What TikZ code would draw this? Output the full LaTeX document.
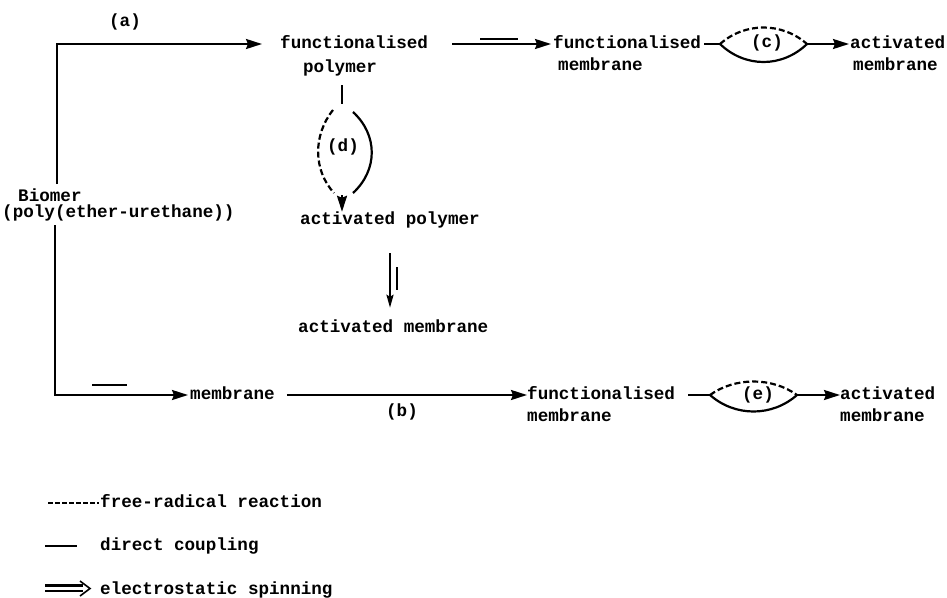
\documentclass[tikz,border=0pt]{standalone}
\usepackage{fontspec}
\setmainfont{Liberation Mono}
\usetikzlibrary{arrows.meta,calc}
\begin{document}
\begin{tikzpicture}[x=1pt,y=-1pt,
  txt/.style={inner sep=0pt, font=\fontsize{17.6}{18}\selectfont\bfseries, text height=12pt, text depth=4pt},
  ln/.style={line width=2.2pt},
  arr/.style={ln,-{Stealth[length=16pt,width=10pt,inset=2pt]}},
  arrn/.style={ln,-{Stealth[length=13pt,width=7pt,inset=2pt]}},
  dsh/.style={ln,dash pattern=on 6pt off 3pt},
]
\useasboundingbox (0,0) rectangle (947,597);

% nodes
\node[txt,anchor=west] (fp1) at (280,44) {functionalised};
\node[txt] (fp2) at (340,68) {polymer};
\node[txt,anchor=west] (fm1) at (553,44) {functionalised};
\node[txt,anchor=west] (fm2) at (558,66) {membrane};
\node[txt,anchor=west] (am1) at (850,44) {activated};
\node[txt,anchor=west] (am2) at (853,66) {membrane};
\node[txt] (la) at (125,22) {(a)};
\node[txt] (lc) at (767,43) {(c)};
\node[txt] (ld) at (343,147) {(d)};
\node[txt,anchor=west,text height=11pt,text depth=1pt] (bio1) at (18,196) {Biomer};
\node[txt,anchor=west,text height=11pt,text depth=4pt] (bio2) at (2,214) {(poly(ether-urethane))};
\node[txt,anchor=west] (ap) at (300,220) {activated polymer};
\node[txt,anchor=west] (amem) at (298,328) {activated membrane};
\node[txt,anchor=west] (mem) at (190,395) {membrane};
\node[txt] (lb) at (402,412) {(b)};
\node[txt,anchor=west] (fb1) at (527,395) {functionalised};
\node[txt,anchor=west] (fb2) at (527,417) {membrane};
\node[txt] (le) at (758,395) {(e)};
\node[txt,anchor=west] (ab1) at (840,395) {activated};
\node[txt,anchor=west] (ab2) at (840,417) {membrane};
\node[txt,anchor=west] (k1) at (100,503) {free-radical reaction};
\node[txt,anchor=west] (k2) at (100,546) {direct coupling};
\node[txt,anchor=west] (k3) at (100,590) {electrostatic spinning};

% (a)
\coordinate (ta) at (57,184);
\draw[arr] (ta) |- ([xshift=-18pt]fp1.west);
% top electrospinning
\draw[arr] ([xshift=24pt]fp1.east) -- ([xshift=-2pt]fm1.west);
\draw[ln] (480,39) -- (518,39);
% (c)
\coordinate (c1) at (720,44);
\coordinate (c2) at (807,44);
\draw[ln] ([xshift=3pt]fm1.east) -- (c1);
\draw[dsh] (c1) .. controls +(25,-22) and +(-25,-22) .. (c2);
\draw[ln] (c1) .. controls +(25,24) and +(-25,24) .. (c2);
\draw[arr] (c2) -- ([xshift=-1pt]am1.west);
% (d)
\coordinate (d0) at (342,85);
\draw[ln] (d0) -- ++(0,19);
\draw[dsh] (333,110) .. controls (313,135) and (313,170) .. (334,193);
\draw[ln] (353,112) .. controls (378,135) and (378,170) .. (353,193);
\coordinate (d2) at (342,195);
\draw[arr] (d2) -- (d2 |- ap.north);
% electrospinning down
\coordinate (v1) at (390,253);
\draw[arrn] (v1) -- ([yshift=12pt]v1 |- amem.north);
\draw[ln] (397,267) -- (397,290);
% bottom
\coordinate (bb) at (55,225);
\draw[arr] (bb) |- ([xshift=-2pt]mem.west);
\draw[ln] (92,385) -- (127,385);
\draw[arr] ([xshift=12pt]mem.east) -- (fb1.west);
% (e)
\coordinate (e1) at (710,395);
\coordinate (e2) at (797,395);
\draw[ln] ([xshift=13pt]fb1.east) -- (e1);
\draw[dsh] (e1) .. controls +(25,-18) and +(-25,-18) .. (e2);
\draw[ln] (e1) .. controls +(25,22) and +(-25,22) .. (e2);
\draw[arr] (e2) -- (ab1.west);
% legend
\coordinate (g1) at (48,503);
\draw[ln,dash pattern=on 5pt off 2pt] (g1) -- ([xshift=-1pt]k1.west);
\coordinate (g2) at (45,546);
\draw[ln] (g2) -- ++(32,0);
\coordinate (g3) at (45,585.5);
\coordinate (g4) at (45,591);
\draw[ln] (g3) -- ++(38,0);
\draw[ln] (g4) -- ++(38,0);
\draw[line width=1.6pt] (80,581) -- (90,588.5) -- (80,596);
\end{tikzpicture}
\end{document}
